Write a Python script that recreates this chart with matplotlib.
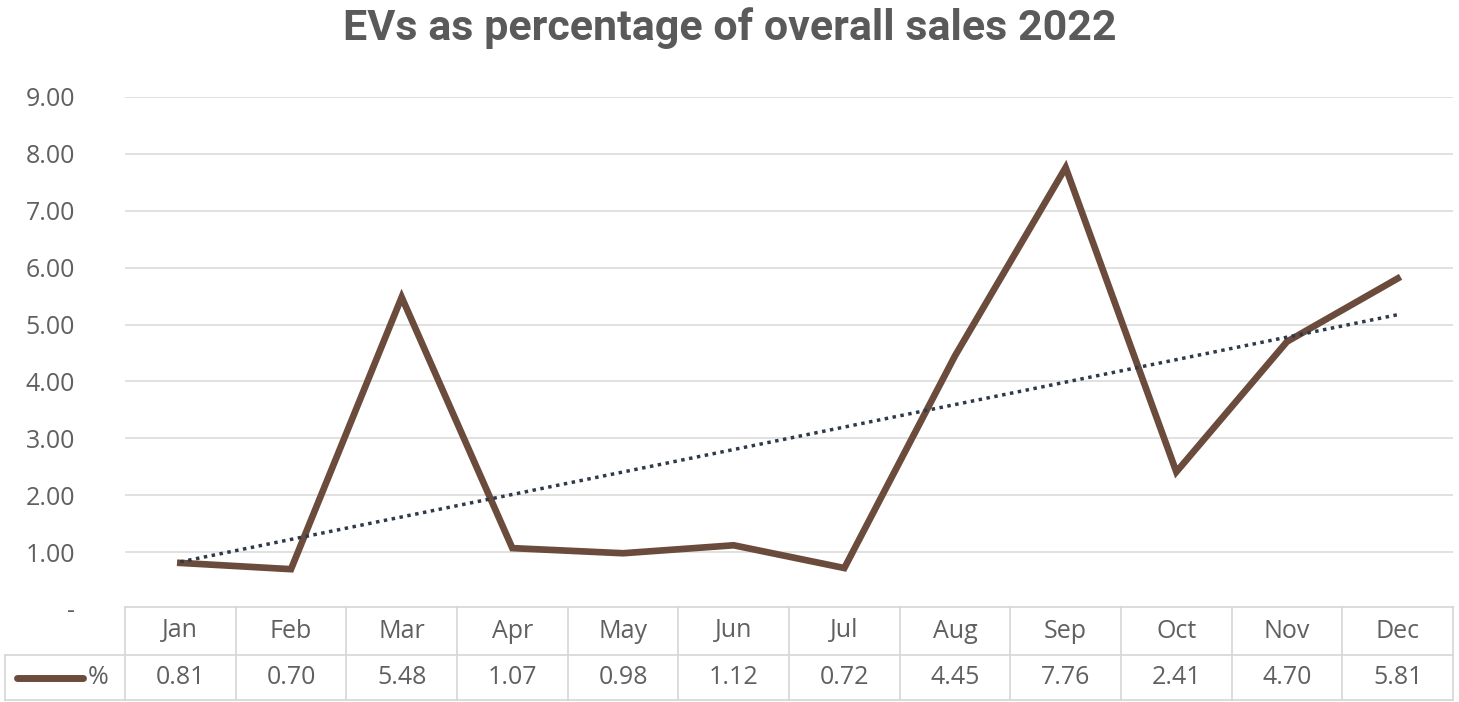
import numpy as np
import matplotlib
matplotlib.use("Agg")
import matplotlib.pyplot as plt
import matplotlib.transforms as mtransforms

months = ["Jan", "Feb", "Mar", "Apr", "May", "Jun", "Jul", "Aug", "Sep", "Oct", "Nov", "Dec"]
values = [0.81, 0.70, 5.48, 1.07, 0.98, 1.12, 0.72, 4.45, 7.76, 2.41, 4.70, 5.81]
series_name = "%"
title = "EVs as percentage of overall sales 2022"
yticks = [0, 1, 2, 3, 4, 5, 6, 7, 8, 9]

W, H = 1459, 702
fig = plt.figure(figsize=(W / 100, H / 100), dpi=100)
fig.patch.set_facecolor("white")

left, right = 125, 1453
top, bottom = 97, 609
ax = fig.add_axes([left / W, (H - bottom) / H, (right - left) / W, (bottom - top) / H])

n = len(months)
x = np.arange(n) + 0.5
line_color = "#6b4c3c"
trend_color = "#2e3a4a"
grid_color = "#dcdcdc"
text_color = "#606060"
font = "Open Sans"

ax.set_xlim(0, n)
ax.set_ylim(0, 9)
ax.set_yticks(yticks)
ax.set_yticklabels(["-" if t == 0 else f"{t:.2f}" for t in yticks],
                   fontsize=18, color=text_color, family=font)
ax.tick_params(axis="y", length=0, pad=36)
ax.set_xticks([])
for s in ax.spines.values():
    s.set_visible(False)
for t in yticks[1:]:
    ax.axhline(t, color=grid_color, lw=1.2, zorder=0)

ax.plot(x, values, color=line_color, lw=4.8, solid_joinstyle="miter", zorder=3)

coef = np.polyfit(np.arange(1, n + 1), values, 1)
trend = np.polyval(coef, np.arange(1, n + 1))
ax.plot(x, trend, color=trend_color, lw=2.5, ls=(0, (1, 1.3)), zorder=4)

fig.text(0.5, 1 - 28 / H, title, ha="center", va="center", fontsize=31,
         fontweight="bold", color="#5a5a5a", family="Roboto")

# data table below axes
trans = mtransforms.blended_transform_factory(ax.transData, fig.transFigure)
def fy(py):
    return 1 - py / H

row_top, row_mid, row_bot = 607, 655, 700
tc = "#d6d6d6"
ax.plot([0, n], [fy(row_top)] * 2, color=tc, lw=1.2, transform=trans, clip_on=False)
ax.plot([-1.08, n], [fy(row_mid)] * 2, color=tc, lw=1.2, transform=trans, clip_on=False)
ax.plot([-1.08, n], [fy(row_bot)] * 2, color=tc, lw=1.2, transform=trans, clip_on=False)
for i in range(n + 1):
    ax.plot([i, i], [fy(row_top), fy(row_bot)], color=tc, lw=1.2, transform=trans, clip_on=False)
ax.plot([-1.08, -1.08], [fy(row_mid), fy(row_bot)], color=tc, lw=1.2, transform=trans, clip_on=False)

for i, (m, v) in enumerate(zip(months, values)):
    ax.text(i + 0.5, fy((row_top + row_mid) / 2), m, transform=trans, ha="center",
            va="center", fontsize=18, color=text_color, family=font)
    ax.text(i + 0.5, fy((row_mid + row_bot) / 2), f"{v:.2f}", transform=trans, ha="center",
            va="center", fontsize=18, color=text_color, family=font)

ax.plot([-0.98, -0.38], [fy(678)] * 2, color=line_color, lw=5, transform=trans,
        clip_on=False, solid_capstyle="round")
ax.text(-0.34, fy(677), series_name, transform=trans, ha="left", va="center",
        fontsize=18, color=text_color, family=font)

fig.savefig("out.png", dpi=100, facecolor="white")
